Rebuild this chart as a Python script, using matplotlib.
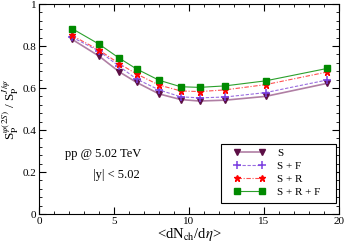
import matplotlib
matplotlib.use("Agg")
import matplotlib.pyplot as plt
from matplotlib.ticker import MultipleLocator
from matplotlib.patches import Rectangle

plt.rcParams['font.family'] = ['Liberation Serif', 'DejaVu Serif']
plt.rcParams['mathtext.fontset'] = 'stix'

# multiplicity bins
dndeta = [2.2, 4.0, 5.35, 6.5, 8.0, 9.45, 10.7, 12.4, 15.1, 19.2]

# double ratio for each scenario
s_only = [0.832, 0.752, 0.677, 0.627, 0.572, 0.545, 0.538, 0.542, 0.560, 0.622]
s_f = [0.842, 0.776, 0.703, 0.643, 0.591, 0.558, 0.553, 0.557, 0.578, 0.638]
s_r = [0.850, 0.781, 0.716, 0.667, 0.614, 0.586, 0.583, 0.591, 0.616, 0.676]
s_r_f = [0.883, 0.809, 0.742, 0.691, 0.637, 0.606, 0.603, 0.610, 0.634, 0.693]

fig = plt.figure(figsize=(3.45, 2.43), dpi=100)
ax = fig.add_axes([39/345, 1 - 214/243, 300/345, 210/243])

ax.plot(dndeta, s_only, color='#b07fa4', lw=1.2, marker='v', ms=5,
        mfc='#5c0f45', mec='#5c0f45', label='S')
ax.plot(dndeta, s_f, color='#9a6ee0', lw=0.8, ls=(0, (3, 1.5)), marker='+', ms=6,
        mew=1.1, mec='#7a3fe0', label='S + F')
ax.plot(dndeta, s_r, color='#ff5050', lw=0.8, ls=(0, (4, 1.5, 1, 1.5)), marker='*', ms=5,
        mfc='red', mec='red', label='S + R')
ax.plot(dndeta, s_r_f, color='#2ca02c', lw=0.8, marker='s', ms=4,
        mfc='#008a00', mec='#008a00', label='S + R + F')

ax.set_xlim(0, 20)
ax.set_ylim(0, 1)
ax.xaxis.set_major_locator(MultipleLocator(5))
ax.xaxis.set_minor_locator(MultipleLocator(1))
ax.yaxis.set_major_locator(MultipleLocator(0.2))
ax.yaxis.set_minor_locator(MultipleLocator(0.04))
ax.tick_params(which='both', direction='in', top=True, right=True, labelsize=8, pad=2)
ax.tick_params(which='major', length=5)
ax.tick_params(which='minor', length=2.5)
ax.set_yticks([0, 0.2, 0.4, 0.6, 0.8, 1.0])
ax.set_yticklabels(['0', '0.2', '0.4', '0.6', '0.8', '1'])

ax.set_xlabel(r'<dN$_{\mathrm{ch}}$/d$\eta$>', fontsize=10.5, labelpad=0)
ax.set_ylabel(r'S$_\mathrm{P}^{\psi(2S)}$ / S$_\mathrm{P}^{J/\psi}$', fontsize=9.5, labelpad=1)

ax.text(1.75, 0.27, 'pp @ 5.02 TeV', fontsize=9)
ax.text(3.6, 0.17, '|y| < 5.02', fontsize=9)

# legend box drawn separately so the padding matches the original
ax.add_patch(Rectangle((0.606, 0.054), 0.383, 0.279, transform=ax.transAxes,
                       fill=True, facecolor='white', edgecolor='black', lw=0.8, zorder=4))
leg = ax.legend(loc='upper left', bbox_to_anchor=(0.65, 0.315),
                borderaxespad=0, borderpad=0, fontsize=8, numpoints=2, frameon=False,
                handlelength=2.85, labelspacing=0.3, handletextpad=1.05)
leg.set_zorder(5)

fig.savefig('out.png', dpi=100)
